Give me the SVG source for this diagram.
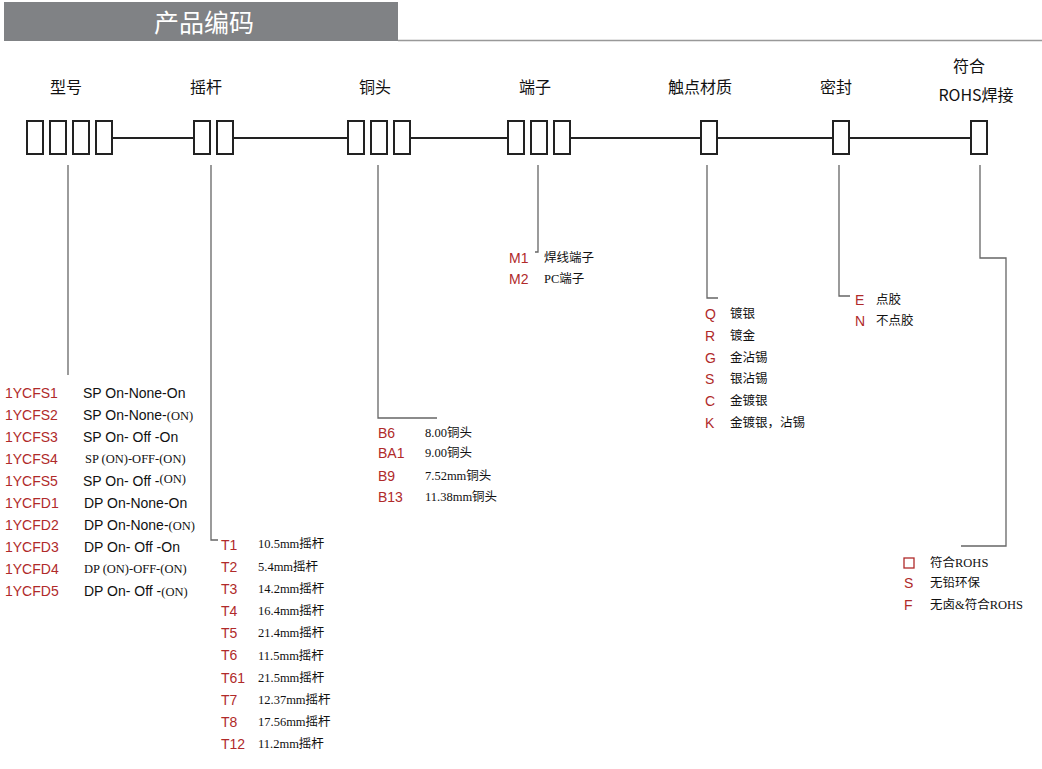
<svg xmlns="http://www.w3.org/2000/svg" width="1042" height="769" viewBox="0 0 1042 769">
<style>
.h{font-family:"Noto Sans CJK SC",sans-serif;font-size:16px;fill:#111}
.r{font-family:"Liberation Sans",sans-serif;font-size:14px;fill:#b02a2a}
.k{font-family:"Liberation Sans",sans-serif;font-size:14px;fill:#111}
.s{font-family:"Liberation Serif","Noto Sans CJK SC",serif;font-size:12.5px;fill:#111}
.b{fill:#fff;stroke:#222;stroke-width:2}
.l{fill:none;stroke:#666;stroke-width:1.3}
.m{fill:none;stroke:#222;stroke-width:2}
</style>
<rect width="1042" height="769" fill="#fff"/>
<rect x="4" y="2" width="394" height="39" fill="#808285"/>
<line x1="398" y1="40.5" x2="1042" y2="40.5" stroke="#999" stroke-width="1.5"/>
<text x="204" y="32" font-family="Noto Sans CJK SC,sans-serif" font-size="25" fill="#fff" text-anchor="middle">产品编码</text>
<g id="connectors">
<line class="m" x1="112" y1="138" x2="193" y2="138"/>
<line class="m" x1="233" y1="138" x2="347" y2="138"/>
<line class="m" x1="410" y1="138" x2="507" y2="138"/>
<line class="m" x1="570" y1="138" x2="700" y2="138"/>
<line class="m" x1="717" y1="138" x2="832" y2="138"/>
<line class="m" x1="849" y1="138" x2="970" y2="138"/>
<polyline class="l" points="68,165 68,375"/>
<polyline class="l" points="211,165 211,540 218,540"/>
<polyline class="l" points="378,165 378,418 437,418"/>
<polyline class="l" points="538,165 538,252 535,252"/>
<polyline class="l" points="707,165 707,298 718,298"/>
<polyline class="l" points="839,165 839,296 850,296"/>
<polyline class="l" points="980,165 980,258 1006,258 1006,546 961,546"/>
</g>
<g id="n-model"><text class="h" x="66" y="93" text-anchor="middle">型号</text>
<rect class="b" x="27" y="121" width="16" height="33"/><rect class="b" x="50" y="121" width="16" height="33"/><rect class="b" x="73" y="121" width="16" height="33"/><rect class="b" x="96" y="121" width="16" height="33"/>
<text class="r" x="5" y="398">1YCFS1</text><text class="k" x="83" y="398">SP On-None-On</text>
<text class="r" x="5" y="420">1YCFS2</text><text class="k" x="83" y="420">SP On-None-<tspan class="s">(ON)</tspan></text>
<text class="r" x="5" y="442">1YCFS3</text><text class="k" x="83" y="442">SP On- Off -On</text>
<text class="r" x="5" y="464">1YCFS4</text><text class="s" x="85" y="463">SP  (ON)-OFF-(ON)</text>
<text class="r" x="5" y="486">1YCFS5</text><text class="k" x="83" y="486">SP On- Off -<tspan class="s" dy="-3">(ON)</tspan></text>
<text class="r" x="5" y="508">1YCFD1</text><text class="k" x="84" y="508">DP On-None-On</text>
<text class="r" x="5" y="530">1YCFD2</text><text class="k" x="84" y="530">DP On-None-<tspan class="s">(ON)</tspan></text>
<text class="r" x="5" y="552">1YCFD3</text><text class="k" x="84" y="552">DP On- Off -On</text>
<text class="r" x="5" y="574">1YCFD4</text><text class="s" x="84" y="573">DP  (ON)-OFF-(ON)</text>
<text class="r" x="5" y="596">1YCFD5</text><text class="k" x="84" y="596">DP On- Off -<tspan class="s">(ON)</tspan></text>
</g>
<g id="n-rocker"><text class="h" x="206" y="93" text-anchor="middle">摇杆</text>
<rect class="b" x="194" y="121" width="16" height="33"/><rect class="b" x="217" y="121" width="16" height="33"/>
<g class="r"><text x="221" y="550">T1</text><text x="221" y="572">T2</text><text x="221" y="594">T3</text><text x="221" y="616">T4</text><text x="221" y="638">T5</text><text x="221" y="660">T6</text><text x="221" y="683">T61</text><text x="221" y="705">T7</text><text x="221" y="727">T8</text><text x="221" y="749">T12</text></g>
<g class="s"><text x="258" y="548">10.5mm摇杆</text><text x="258" y="571">5.4mm摇杆</text><text x="258" y="593">14.2mm摇杆</text><text x="258" y="615">16.4mm摇杆</text><text x="258" y="637">21.4mm摇杆</text><text x="258" y="660">11.5mm摇杆</text><text x="258" y="682">21.5mm摇杆</text><text x="258" y="704">12.37mm摇杆</text><text x="258" y="726">17.56mm摇杆</text><text x="258" y="748">11.2mm摇杆</text></g>
</g>
<g id="n-head"><text class="h" x="375" y="93" text-anchor="middle">铜头</text>
<rect class="b" x="348" y="121" width="16" height="33"/><rect class="b" x="371" y="121" width="16" height="33"/><rect class="b" x="394" y="121" width="16" height="33"/>
<g class="r"><text x="378" y="438">B6</text><text x="378" y="458">BA1</text><text x="378" y="481">B9</text><text x="378" y="502">B13</text></g>
<g class="s"><text x="425" y="437">8.00铜头</text><text x="425" y="457">9.00铜头</text><text x="425" y="480">7.52mm铜头</text><text x="425" y="501">11.38mm铜头</text></g>
</g>
<g id="n-term"><text class="h" x="535" y="93" text-anchor="middle">端子</text>
<rect class="b" x="508" y="121" width="16" height="33"/><rect class="b" x="531" y="121" width="16" height="33"/><rect class="b" x="554" y="121" width="16" height="33"/>
<g class="r"><text x="509" y="263">M1</text><text x="509" y="284">M2</text></g>
<g class="s"><text x="544" y="262">焊线端子</text><text x="544" y="283">PC端子</text></g>
</g>
<g id="n-contact"><text class="h" x="700" y="93" text-anchor="middle">触点材质</text>
<rect class="b" x="701" y="121" width="16" height="33"/>
<g class="r"><text x="705" y="319">Q</text><text x="705" y="341">R</text><text x="705" y="363">G</text><text x="705" y="384">S</text><text x="705" y="406">C</text><text x="705" y="428">K</text></g>
<g class="s"><text x="730" y="318">镀银</text><text x="730" y="340">镀金</text><text x="730" y="362">金沾锡</text><text x="730" y="383">银沾锡</text><text x="730" y="405">金镀银</text><text x="730" y="427">金镀银，沾锡</text></g>
</g>
<g id="n-seal"><text class="h" x="836" y="93" text-anchor="middle">密封</text>
<rect class="b" x="833" y="121" width="16" height="33"/>
<g class="r"><text x="855" y="305">E</text><text x="855" y="326">N</text></g>
<g class="s"><text x="876" y="304">点胶</text><text x="876" y="325">不点胶</text></g>
</g>
<g id="n-rohs"><text class="h" x="969" y="72" text-anchor="middle">符合</text><text class="h" x="976" y="101" text-anchor="middle">ROHS焊接</text>
<rect class="b" x="971" y="121" width="16" height="33"/>
<rect x="904" y="558" width="10" height="10" fill="none" stroke="#b02a2a" stroke-width="1.3"/>
<g class="r"><text x="904" y="588">S</text><text x="904" y="610">F</text></g>
<g class="s"><text x="930" y="567">符合ROHS</text><text x="930" y="587">无铅环保</text><text x="930" y="609">无卤&amp;符合ROHS</text></g>
</g>
</svg>
